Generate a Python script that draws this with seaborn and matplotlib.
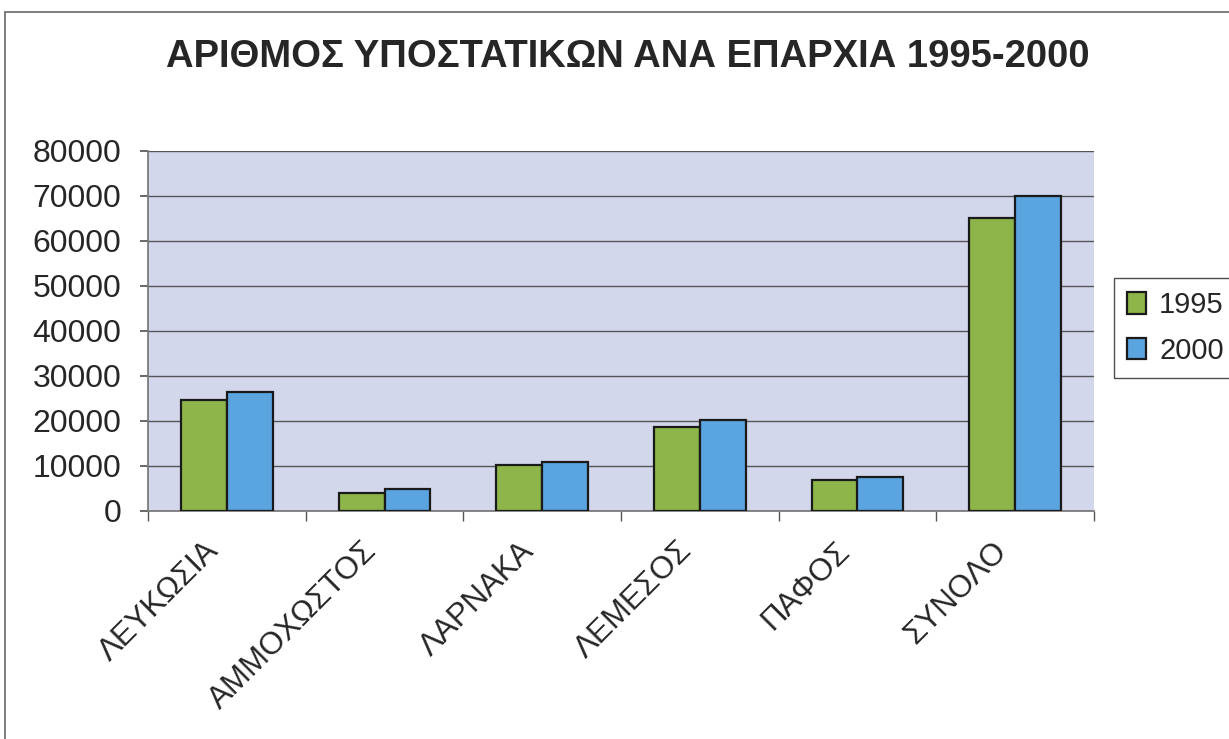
import numpy as np
import pandas as pd
import matplotlib
matplotlib.use("Agg")
import matplotlib.pyplot as plt
import matplotlib.transforms as mtransforms
import seaborn as sns

# --- Data ---
REGIONS = ["ΛΕΥΚΩΣΙΑ", "ΑΜΜΟΧΩΣΤΟΣ", "ΛΑΡΝΑΚΑ", "ΛΕΜΕΣΟΣ", "ΠΑΦΟΣ", "ΣΥΝΟΛΟ"]
VALUES_1995 = [24700, 4100, 10300, 18700, 7000, 65200]
VALUES_2000 = [26400, 4900, 10900, 20200, 7500, 70100]
YEARS = ["1995", "2000"]

TITLE = "ΑΡΙΘΜΟΣ ΥΠΟΣΤΑΤΙΚΩΝ ΑΝΑ ΕΠΑΡΧΙΑ 1995-2000"
COLORS = ["#8db54a", "#5aa4df"]
PLOT_BG = "#d3d7ec"


def main():
    df = pd.DataFrame({
        "Region": REGIONS * 2,
        "Year": [YEARS[0]] * len(REGIONS) + [YEARS[1]] * len(REGIONS),
        "Count": VALUES_1995 + VALUES_2000,
    })

    sns.set_theme(style="white")
    plt.rcParams["font.family"] = ["Liberation Sans", "DejaVu Sans"]

    fig = plt.figure(figsize=(12.29, 7.39), dpi=100)
    fig.patch.set_facecolor("white")
    ax = fig.add_axes([148 / 1229, 1 - 511 / 739, (1094 - 148) / 1229, (511 - 151) / 739])

    sns.barplot(data=df, x="Region", y="Count", hue="Year", palette=COLORS,
                width=0.58, edgecolor="#1a1a1a", linewidth=1.6, ax=ax,
                saturation=1, legend=True, zorder=3)

    ax.set_facecolor(PLOT_BG)
    ax.set_ylim(0, 80000)
    ax.set_xlim(-0.5, len(REGIONS) - 0.5)
    ax.set_yticks(np.arange(0, 80001, 10000))
    ax.yaxis.grid(True, color="#555555", linewidth=1.0, zorder=0)
    ax.set_axisbelow(True)
    ax.set_xlabel("")
    ax.set_ylabel("")

    for side in ["top", "right"]:
        ax.spines[side].set_visible(False)
    ax.spines["left"].set_color("#777777")
    ax.spines["bottom"].set_color("#777777")

    ax.tick_params(axis="y", labelsize=23, length=6, color="#555555", left=True, pad=13)
    ax.set_xticks(range(len(REGIONS)))
    ax.set_xticklabels(REGIONS, rotation=45, ha="right", rotation_mode="anchor", fontsize=22.5)
    ax.tick_params(axis="x", length=0, pad=18)
    shift = mtransforms.ScaledTranslation(-0.23, 0, fig.dpi_scale_trans)
    for lab in ax.get_xticklabels():
        lab.set_transform(lab.get_transform() + shift)
    ax.set_xticks(np.arange(-0.5, len(REGIONS)), minor=True)
    ax.tick_params(axis="x", which="minor", length=7, color="#555555", bottom=True)

    leg = ax.legend(loc="center left", bbox_to_anchor=(1114 / 1229, 1 - 328 / 739),
                    bbox_transform=fig.transFigure, borderaxespad=0, fontsize=21,
                    frameon=True, fancybox=False, edgecolor="#222222",
                    handlelength=0.65, handleheight=0.75, handletextpad=0.45,
                    borderpad=0.45, labelspacing=0.6)
    leg.get_frame().set_linewidth(1.0)

    fig.text(628 / 1229, 1 - 57 / 739, TITLE, ha="center", va="center",
             fontsize=27.5, fontweight="bold")

    # outer chart frame
    fig.add_artist(plt.Rectangle((5 / 1229, -0.1), 1.2, 1 - 12 / 739 + 0.1,
                                 transform=fig.transFigure, fill=False,
                                 edgecolor="#666666", linewidth=1.2))

    fig.savefig("out.png", dpi=100)
    plt.close(fig)


if __name__ == "__main__":
    main()
